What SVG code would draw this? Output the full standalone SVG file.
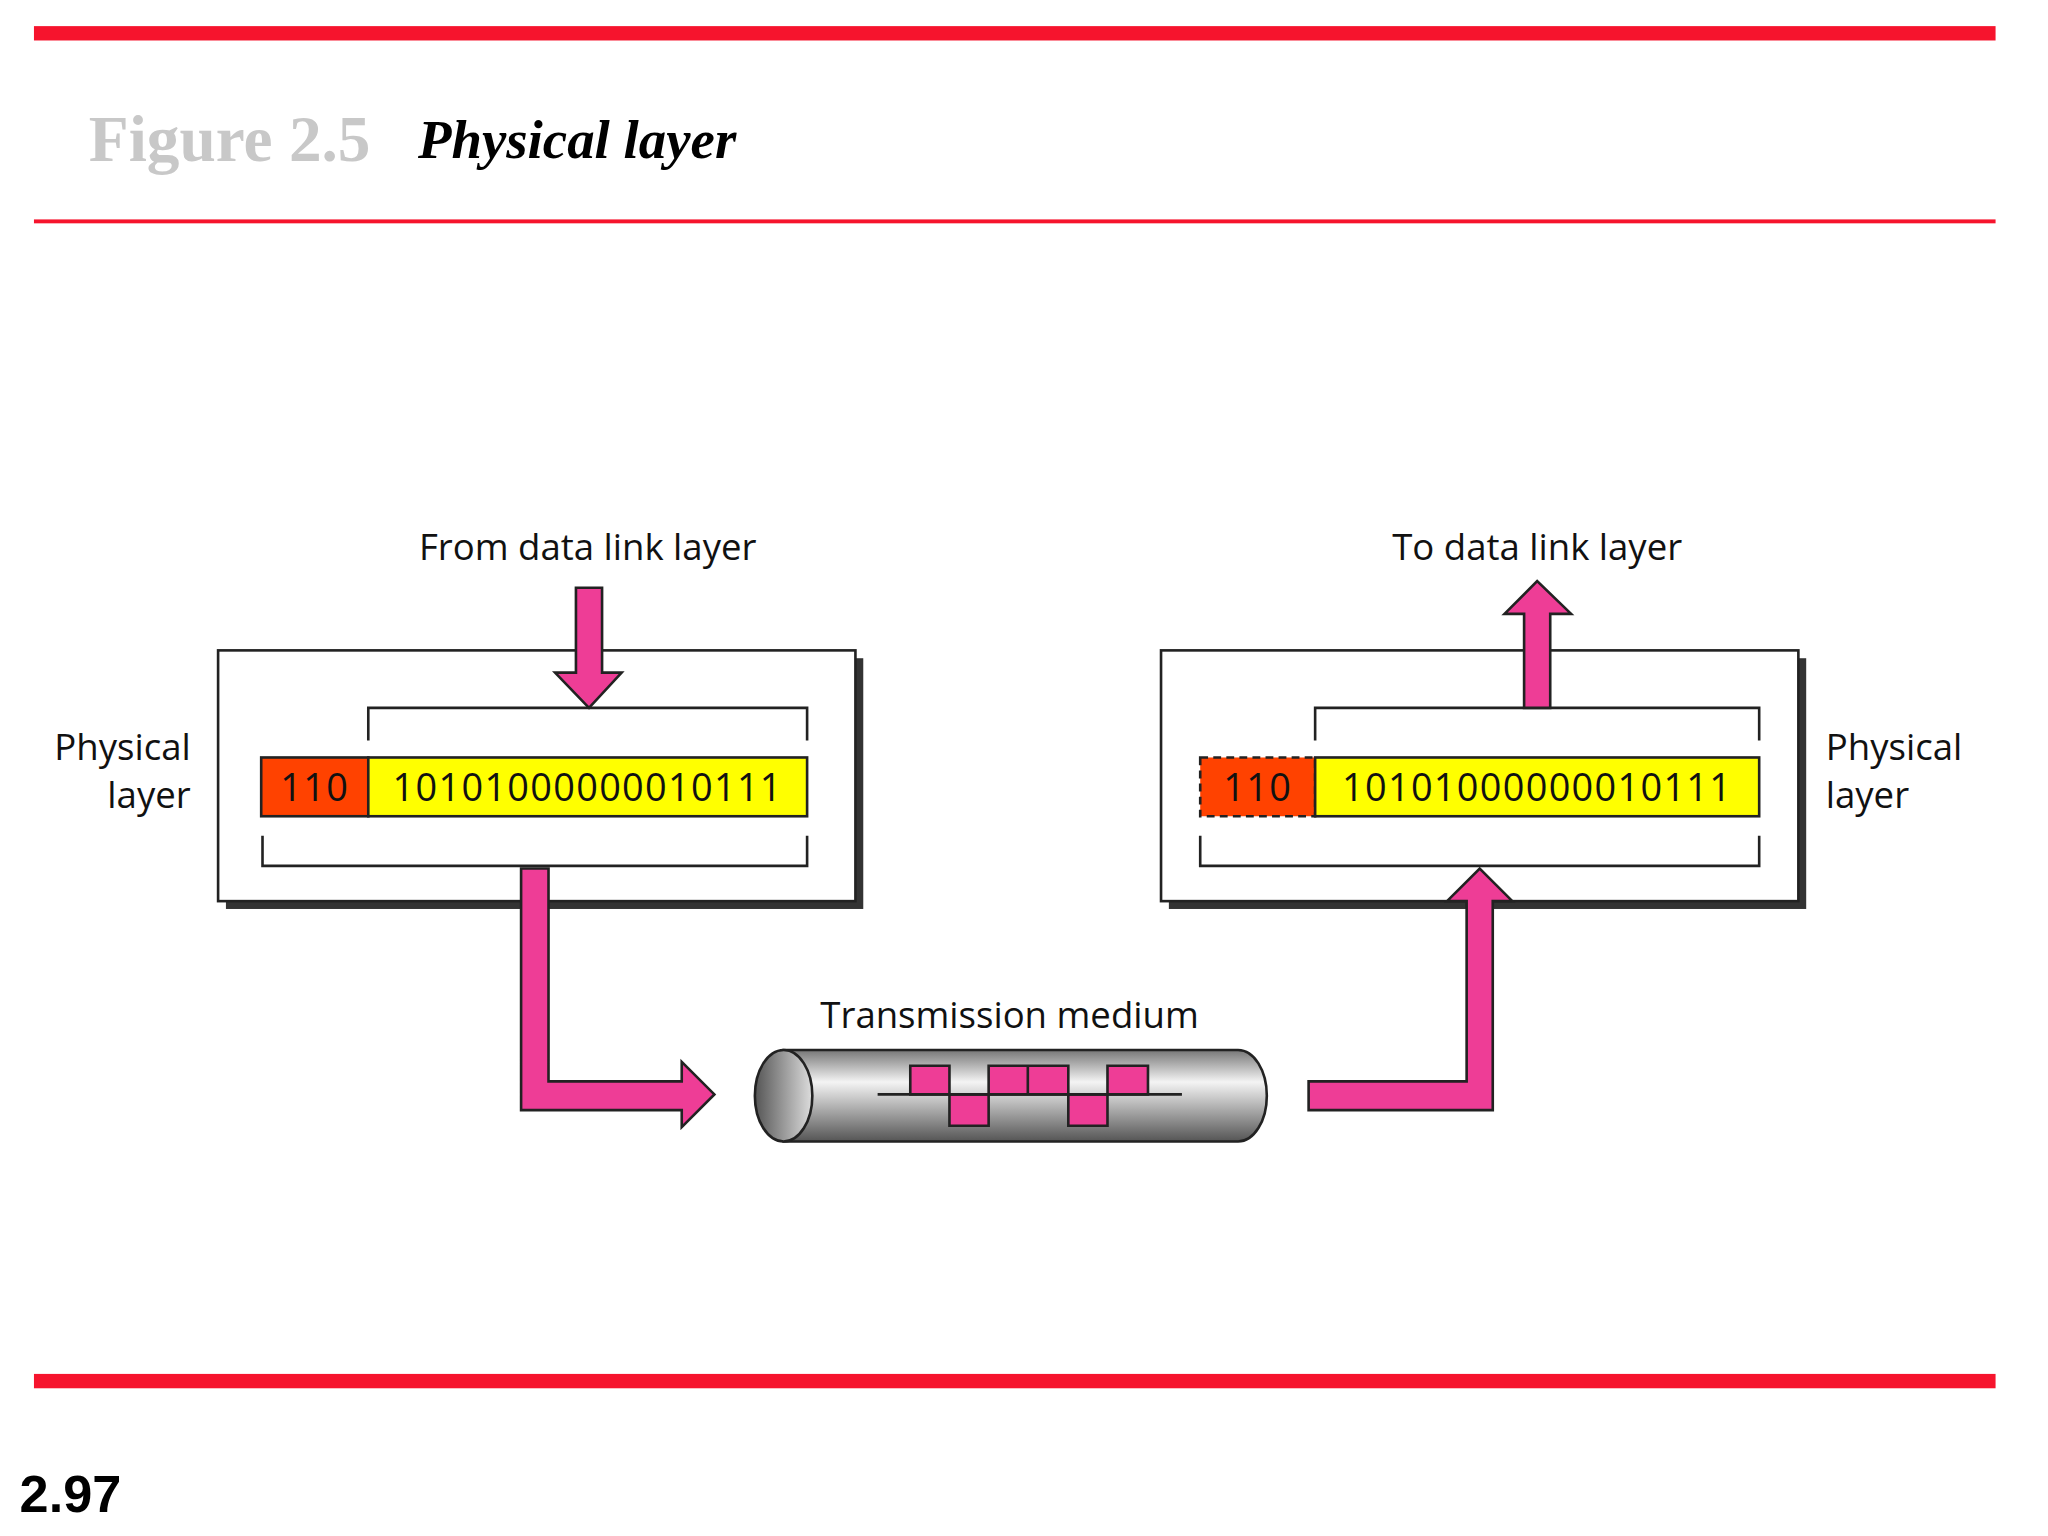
<svg xmlns="http://www.w3.org/2000/svg" width="2048" height="1536" viewBox="0 0 2048 1536">
<style>
.lbl{font-family:"Open Sans","DejaVu Sans",sans-serif;font-size:28px;fill:#111}
.bits{font-family:"Open Sans","DejaVu Sans",sans-serif;font-size:29px;fill:#111;letter-spacing:1px}
.pink{fill:#ee3d96;stroke:#222;stroke-width:2}
.br{fill:none;stroke:#222;stroke-width:2}
</style>
<defs>
<linearGradient id="cyl" x1="0" y1="0" x2="0" y2="1">
<stop offset="0" stop-color="#777"/><stop offset="0.35" stop-color="#f4f4f4"/><stop offset="1" stop-color="#555"/>
</linearGradient>
<linearGradient id="end" x1="0" y1="0" x2="1" y2="0">
<stop offset="0" stop-color="#555"/><stop offset="1" stop-color="#ddd"/>
</linearGradient>
</defs>
<rect width="2048" height="1536" fill="#fff"/>
<g transform="scale(1.306,1.306)">
<rect x="26" y="20" width="1502" height="11" fill="#f6142d"/>
<rect x="26" y="168" width="1502" height="3" fill="#f6142d"/>
<rect x="26" y="1052" width="1502" height="11" fill="#f6142d"/>
<text x="68" y="123" font-family="Liberation Serif,serif" font-weight="bold" font-size="50" fill="#c8c8c8">Figure 2.5</text>
<text x="320" y="121" font-family="Liberation Serif,serif" font-weight="bold" font-style="italic" font-size="42" fill="#000">Physical layer</text>
<text x="15" y="1158" font-family="Liberation Sans,sans-serif" font-weight="bold" font-size="40" fill="#000">2.97</text>

<g id="sender">
<rect x="173" y="504" width="488" height="192" fill="#333"/>
<rect x="167" y="498" width="488" height="192" fill="#fff" stroke="#222" stroke-width="2"/>
<path class="br" d="M282,567V542H618V567"/>
<path class="br" d="M201,640V663H618V640"/>
<rect x="200" y="580" width="82" height="45" fill="#ff4200" stroke="#222" stroke-width="2"/>
<rect x="282" y="580" width="336" height="45" fill="#ffff00" stroke="#222" stroke-width="2"/>
<text class="bits" x="241" y="613" text-anchor="middle">110</text>
<text class="bits" x="450" y="613" text-anchor="middle">10101000000010111</text>
<text class="lbl" x="146" y="582" text-anchor="end">Physical</text>
<text class="lbl" x="146" y="619" text-anchor="end">layer</text>
</g>

<g id="receiver">
<rect x="895" y="504" width="488" height="192" fill="#333"/>
<rect x="889" y="498" width="488" height="192" fill="#fff" stroke="#222" stroke-width="2"/>
<path class="br" d="M1007,567V542H1347V567"/>
<path class="br" d="M919,640V663H1347V640"/>
<rect x="919" y="580" width="88" height="45" fill="#ff4200" stroke="#222" stroke-width="2" stroke-dasharray="6,4"/>
<rect x="1007" y="580" width="340" height="45" fill="#ffff00" stroke="#222" stroke-width="2"/>
<text class="bits" x="963" y="613" text-anchor="middle">110</text>
<text class="bits" x="1177" y="613" text-anchor="middle">10101000000010111</text>
<text class="lbl" x="1398" y="582">Physical</text>
<text class="lbl" x="1398" y="619">layer</text>
</g>

<g id="medium">
<path d="M600,804H948A22,35 0 0 1 948,874H600Z" fill="url(#cyl)" stroke="#222" stroke-width="2"/>
<ellipse cx="600" cy="839" rx="22" ry="35" fill="url(#end)" stroke="#222" stroke-width="2"/>
<path d="M697,838V816H727V838Z M727,838V862H757V838Z M757,838V816H787V838Z M787,838V816H818V838Z M818,838V862H848V838Z M848,838V816H879V838Z" fill="#ee3d96" stroke="#222" stroke-width="2"/>
<line x1="672" y1="838" x2="905" y2="838" stroke="#222" stroke-width="2"/>
<text class="lbl" x="773" y="787" text-anchor="middle">Transmission medium</text>
</g>

<g id="connectors">
<text class="lbl" x="450" y="429" text-anchor="middle">From data link layer</text>
<text class="lbl" x="1177" y="429" text-anchor="middle">To data link layer</text>
<path class="pink" d="M441,450H461V515H476L451,542L425,515H441Z"/>
<path class="pink" d="M1167,542V470H1152L1177,445L1203,470H1187V542Z"/>
<path class="pink" d="M399,665H420V828H522V813L547,838L522,863V850H399Z"/>
<path class="pink" d="M1002,850V828H1123V690H1108L1133,665L1158,690H1143V850Z"/>
</g>
</g>
</svg>
